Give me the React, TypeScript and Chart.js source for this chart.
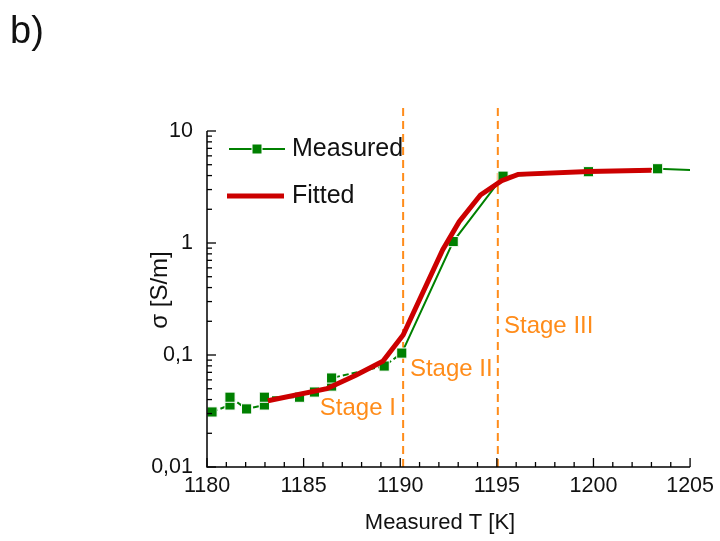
import React, { useEffect, useRef } from "react";
import { Chart, registerables } from "chart.js";

Chart.register(...registerables);

// ---- data ----
const measuredT = [1180.26, 1181.19, 1181.19, 1182.05, 1182.97, 1182.97, 1184.79, 1185.56, 1186.45, 1186.45, 1189.17, 1190.08, 1192.74, 1195.32, 1199.74, 1203.32, 1206.5];
const measuredSigma = [0.031, 0.0358, 0.042, 0.033, 0.0358, 0.042, 0.042, 0.0467, 0.0528, 0.0623, 0.0797, 0.104, 1.03, 3.95, 4.33, 4.6, 4.39];
const fittedT = [1183.15, 1186.2, 1187.7, 1189.1, 1190.15, 1192.2, 1193.05, 1194.15, 1195.25, 1196.1, 1199.75, 1203.0];
const fittedSigma = [0.039, 0.05, 0.066, 0.088, 0.151, 0.87, 1.55, 2.68, 3.6, 4.1, 4.35, 4.47];
const stageBoundaryT = [1190.15, 1195.05];
const boundarySigma = [0.01, 17.8];
const stageLabels = ["Stage I", "Stage II", "Stage III"];
const stageLabelT = [1185.84, 1190.5, 1195.37];
const stageLabelSigma = [0.0336, 0.075, 0.1815];
const xTickValues = [1180, 1185, 1190, 1195, 1200, 1205];
const xTickLabels = ["1180", "1185", "1190", "1195", "1200", "1205"];
const yTickValues = [0.01, 0.1, 1, 10];
const yTickLabels = ["0,01", "0,1", "1", "10"];
const legendLabels = ["Measured", "Fitted"];
const xTitle = "Measured T [K]";
const yTitle = "σ [S/m]";
const panelLabel = "b)";

const GREEN = "#008000";
const RED = "#cc0000";
const ORANGE = "#ff8c1a";
const FONT = "'Liberation Sans', Arial, sans-serif";

const decorPlugin = {
  id: "decor",
  afterDatasetsDraw(chart: any) {
    const { ctx, chartArea, scales } = chart;
    const x = scales.x;
    const y = scales.y;
    const L = chartArea.left;
    const R = chartArea.right;
    const T = chartArea.top;
    const B = chartArea.bottom;
    ctx.save();

    // axes lines
    ctx.strokeStyle = "#000";
    ctx.lineWidth = 1.5;
    ctx.beginPath();
    ctx.moveTo(L, T);
    ctx.lineTo(L, B);
    ctx.lineTo(R, B);
    ctx.stroke();

    // x ticks (inward)
    ctx.lineWidth = 1.3;
    for (let t = Math.ceil(x.min); t <= x.max; t++) {
      const px = x.getPixelForValue(t);
      const len = t % 5 === 0 ? 9 : 5;
      ctx.beginPath();
      ctx.moveTo(px, B);
      ctx.lineTo(px, B - len);
      ctx.stroke();
    }
    // y ticks (inward, log)
    for (let e = -2; e <= 1; e++) {
      const d = Math.pow(10, e);
      const py = y.getPixelForValue(d);
      ctx.beginPath();
      ctx.moveTo(L, py);
      ctx.lineTo(L + 9, py);
      ctx.stroke();
      if (e < 1) {
        for (let m = 2; m <= 9; m++) {
          const pm = y.getPixelForValue(m * d);
          ctx.beginPath();
          ctx.moveTo(L, pm);
          ctx.lineTo(L + 5, pm);
          ctx.stroke();
        }
      }
    }

    // stage labels
    ctx.fillStyle = ORANGE;
    ctx.font = `24px ${FONT}`;
    ctx.textAlign = "left";
    ctx.textBaseline = "middle";
    stageLabels.forEach((s, i) => {
      ctx.fillText(s, x.getPixelForValue(stageLabelT[i]), y.getPixelForValue(stageLabelSigma[i]));
    });

    // legend
    const ly1 = T + 18;
    const ly2 = T + 65;
    ctx.strokeStyle = GREEN;
    ctx.lineWidth = 2;
    ctx.beginPath();
    ctx.moveTo(L + 22, ly1);
    ctx.lineTo(L + 78, ly1);
    ctx.stroke();
    ctx.fillStyle = GREEN;
    ctx.strokeStyle = "#fff";
    ctx.lineWidth = 1;
    ctx.beginPath();
    ctx.rect(L + 50 - 5, ly1 - 5, 10, 10);
    ctx.fill();
    ctx.stroke();
    ctx.strokeStyle = RED;
    ctx.lineWidth = 5;
    ctx.beginPath();
    ctx.moveTo(L + 20, ly2);
    ctx.lineTo(L + 77, ly2);
    ctx.stroke();
    ctx.fillStyle = "#111";
    ctx.font = `25px ${FONT}`;
    ctx.fillText(legendLabels[0], L + 85, ly1);
    ctx.fillText(legendLabels[1], L + 85, ly2);

    // axis titles
    ctx.font = `22px ${FONT}`;
    ctx.textAlign = "center";
    ctx.fillText(xTitle, 440, 523);
    ctx.save();
    ctx.translate(160, 290);
    ctx.rotate(-Math.PI / 2);
    ctx.font = `24px ${FONT}`;
    ctx.fillText(yTitle, 0, 0);
    ctx.restore();

    // panel label
    ctx.font = `38px ${FONT}`;
    ctx.textAlign = "left";
    ctx.textBaseline = "alphabetic";
    ctx.fillText(panelLabel, 10, 43);

    ctx.restore();
  },
};

export default function App() {
  const ref = useRef<HTMLCanvasElement | null>(null);
  useEffect(() => {
    if (!ref.current) return;
    const measured = measuredT.map((t, i) => ({ x: t, y: measuredSigma[i] }));
    const fitted = fittedT.map((t, i) => ({ x: t, y: fittedSigma[i] }));
    const boundaries = stageBoundaryT.map((t) => ({
      type: "line",
      data: boundarySigma.map((s) => ({ x: t, y: s })),
      borderColor: ORANGE,
      borderWidth: 2,
      borderDash: [8, 5],
      pointRadius: 0,
      clip: false,
      order: 3,
    }));
    const chart = new Chart(ref.current, {
      type: "line",
      data: {
        datasets: [
          {
            data: fitted,
            borderColor: RED,
            borderWidth: 5,
            pointRadius: 0,
            order: 0,
          },
          {
            data: measured,
            borderColor: GREEN,
            borderWidth: 2,
            pointStyle: "rect",
            pointRadius: 7.2,
            pointBackgroundColor: GREEN,
            pointBorderColor: "#ffffff",
            pointBorderWidth: 1,
            order: 1,
            segment: {
              borderDash: (c: any) => (c.p1.parsed.x < 1190.5 ? [6, 3] : undefined),
            },
          },
          ...boundaries,
        ] as any,
      },
      options: {
        animation: false,
        responsive: false,
        layout: { padding: { left: 0, top: 131, right: 25, bottom: 0 } },
        plugins: { legend: { display: false }, tooltip: { enabled: false } },
        scales: {
          x: {
            type: "linear",
            min: 1180,
            max: 1205,
            grid: { display: false, drawTicks: false },
            border: { display: false },
            afterBuildTicks: (s: any) => {
              s.ticks = xTickValues.map((v) => ({ value: v }));
            },
            afterFit: (s: any) => {
              s.height = 74;
            },
            ticks: {
              autoSkip: false,
              maxRotation: 0,
              padding: 6,
              color: "#111",
              font: { family: FONT, size: 21.5 },
              callback: (v: any) => {
                const i = xTickValues.indexOf(Number(v));
                return i >= 0 ? xTickLabels[i] : "";
              },
            },
          },
          y: {
            type: "logarithmic",
            min: 0.01,
            max: 10,
            grid: { display: false, drawTicks: false },
            border: { display: false },
            afterBuildTicks: (s: any) => {
              s.ticks = yTickValues.map((v) => ({ value: v }));
            },
            afterFit: (s: any) => {
              s.width = 207;
            },
            ticks: {
              autoSkip: false,
              padding: 14,
              color: "#111",
              font: { family: FONT, size: 21.5 },
              callback: (v: any) => {
                const i = yTickValues.findIndex((t) => Math.abs(t - Number(v)) / t < 1e-6);
                return i >= 0 ? yTickLabels[i] : "";
              },
            },
          },
        },
      },
      plugins: [decorPlugin],
    });
    return () => chart.destroy();
  }, []);
  return (
    <div style={{ position: "absolute", left: 0, top: 0, width: 720, height: 541, background: "#fff" }}>
      <canvas ref={ref} width={720} height={541} style={{ display: "block" }} />
    </div>
  );
}
